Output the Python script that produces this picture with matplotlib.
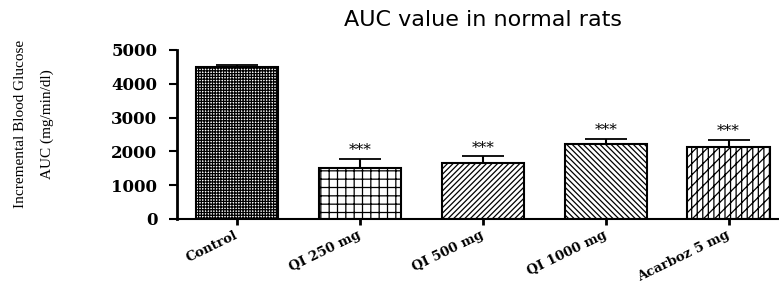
import matplotlib
matplotlib.use("Agg")
import matplotlib.pyplot as plt

categories = ["Control", "QI 250 mg", "QI 500 mg", "QI 1000 mg", "Acarboz 5 mg"]
values = [4500, 1500, 1650, 2230, 2120]
errors = [40, 270, 200, 150, 230]
stars = ["", "***", "***", "***", "***"]
hatches = ["++++++", "++", "//////", "\\\\\\\\\\\\", "///|||"]

plt.rcParams['hatch.linewidth'] = 0.9
fig = plt.figure(figsize=(7.79, 2.87), dpi=100)
ax = fig.add_axes([0.227, 0.237, 0.773, 0.589])

x = list(range(len(categories)))
for i in x:
    ax.bar(i, values[i], width=0.67, color="white", edgecolor="black",
           hatch=hatches[i], linewidth=1.5, zorder=2)
ax.errorbar(x, values, yerr=[[0]*len(errors), errors], fmt="none",
            ecolor="black", elinewidth=1.5, capsize=15, capthick=1.3, zorder=3)
for i in x:
    if stars[i]:
        ax.text(i, values[i] + errors[i] + 50, stars[i], ha="center", va="bottom",
                fontsize=11, family="DejaVu Serif")

ax.set_xlim(-0.49, 4.41)
ax.set_ylim(0, 5000)
ax.set_yticks([0, 1000, 2000, 3000, 4000, 5000])
ax.set_xticks(x)
ax.set_xticklabels(categories, rotation=26, ha="right", va="center",
                   rotation_mode="anchor",
                   family="DejaVu Serif", fontweight="bold", fontsize=9.5)
for lab in ax.get_yticklabels():
    lab.set_family("DejaVu Serif")
    lab.set_fontweight("bold")
    lab.set_fontsize(12)
ax.spines["top"].set_visible(False)
ax.spines["right"].set_visible(False)
ax.spines["left"].set_linewidth(2)
ax.spines["bottom"].set_linewidth(1.5)
ax.tick_params(axis="y", width=1.5, length=6, pad=8)
ax.tick_params(axis="x", width=2, length=4, pad=7)
fig.text(34/779, 1 - 124/287, "Incremental Blood Glucose\nAUC (mg/min/dl)",
         family="Liberation Serif", fontsize=11, rotation=90,
         ha="center", va="center", linespacing=2.4)
fig.text(483/779, 1 - 20/287, "AUC value in normal rats", ha="center", va="center",
         family="DejaVu Sans", fontsize=16)

fig.savefig("out.png", dpi=100)
